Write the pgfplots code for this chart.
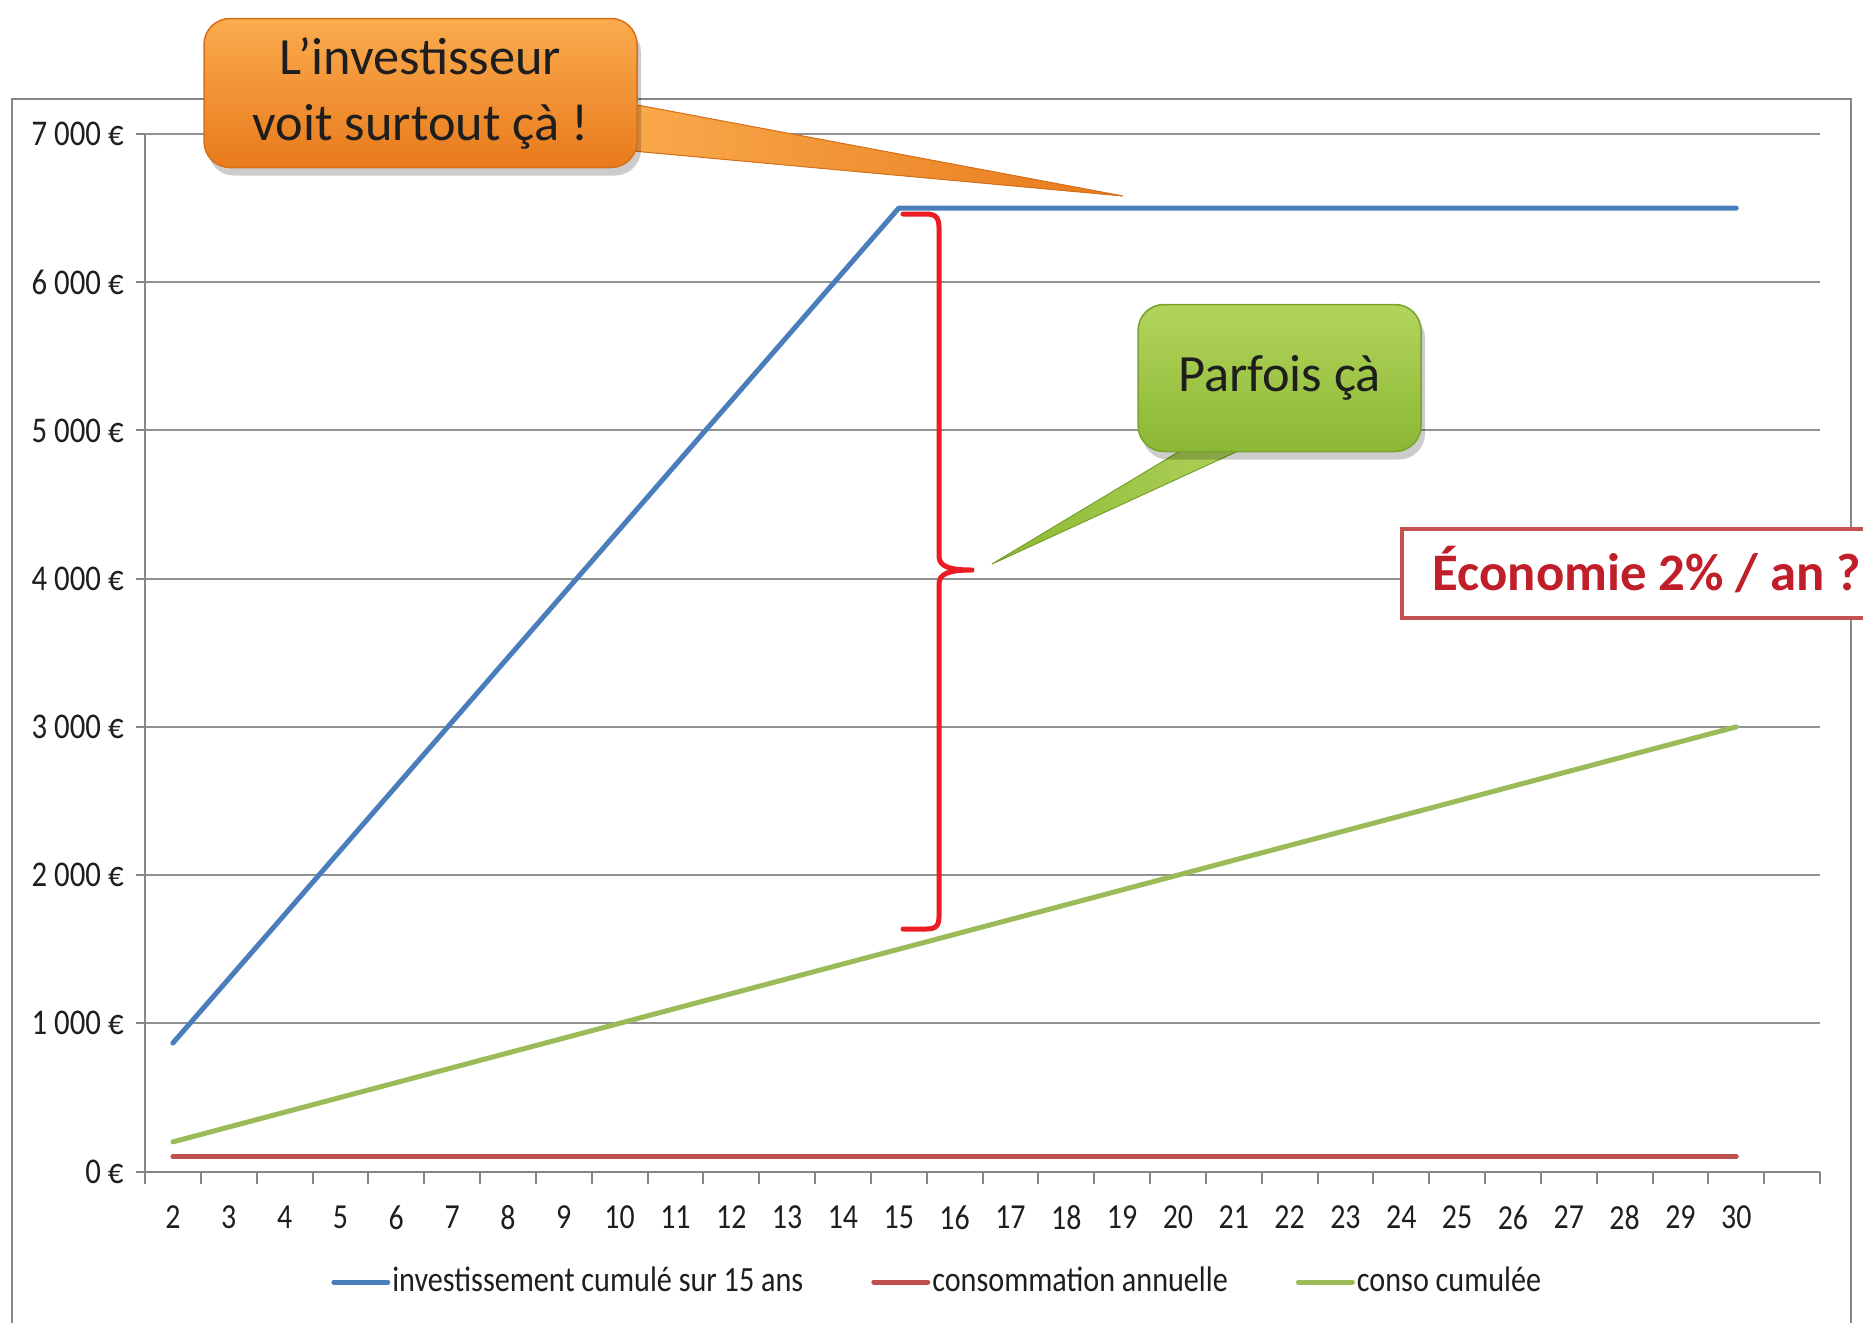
\documentclass[border=0pt]{standalone}
\usepackage{pgfplots}
\pgfplotsset{compat=1.18}
\usepackage{pgfplotstable}
\usepackage{fontspec}
\setmainfont{Carlito}
\usepackage{graphicx}
\usetikzlibrary{shadows}
\definecolor{axgray}{RGB}{134,134,134}
\definecolor{gridgray}{RGB}{145,145,145}
\definecolor{sblue}{RGB}{74,126,187}
\definecolor{sred}{RGB}{192,80,77}
\definecolor{sgreen}{RGB}{155,187,89}
\definecolor{bracered}{RGB}{237,28,36}
\definecolor{txt}{RGB}{30,30,30}
\definecolor{orTop}{RGB}{250,172,78}
\definecolor{orBot}{RGB}{232,122,28}
\definecolor{orEdge}{RGB}{214,112,24}
\definecolor{grTop}{RGB}{178,212,92}
\definecolor{grBot}{RGB}{140,184,52}
\definecolor{grEdge}{RGB}{122,162,46}
\definecolor{boxred}{RGB}{196,82,80}
\definecolor{ecored}{RGB}{192,30,40}
\newcommand\cond[1]{\scalebox{0.85}[1]{#1}}

\pgfplotstableread{
x inv conso cumul
2 867 100 200
3 1300 100 300
4 1733 100 400
5 2167 100 500
6 2600 100 600
7 3033 100 700
8 3467 100 800
9 3900 100 900
10 4333 100 1000
11 4767 100 1100
12 5200 100 1200
13 5633 100 1300
14 6067 100 1400
15 6500 100 1500
16 6500 100 1600
17 6500 100 1700
18 6500 100 1800
19 6500 100 1900
20 6500 100 2000
21 6500 100 2100
22 6500 100 2200
23 6500 100 2300
24 6500 100 2400
25 6500 100 2500
26 6500 100 2600
27 6500 100 2700
28 6500 100 2800
29 6500 100 2900
30 6500 100 3000
}\data

\begin{document}
\begin{tikzpicture}
\useasboundingbox (0,0) rectangle (186.3mm,-132.2mm);
\begin{scope}[x=0.1mm,y=-0.1mm]
\fill[white] (0,0) rectangle (1863,1322);
\draw[axgray, line width=0.25mm] (12,1400) -- (12,99) -- (1851,99) -- (1851,1400);
\end{scope}
\begin{axis}[
  at={(14.5mm,-117.15mm)}, anchor=south west,
  scale only axis, width=167.5mm, height=103.75mm,
  xmin=1.5, xmax=31.5, ymin=0, ymax=7000,
  axis lines*=left,
  axis line style={axgray, line width=0.2mm},
  every tick/.style={axgray, line width=0.2mm},
  tick align=outside,
  xtick={2,...,30},
  major x tick style={draw=none},
  minor xtick={1.5,2.5,...,31.5},
  minor tick length=1.2mm,
  major tick length=0.9mm,
  ytick={0,1000,...,7000},
  ymajorgrids,
  major grid style={gridgray, line width=0.2mm},
  xticklabel={\cond{\pgfmathprintnumber[assume math mode=true]{\tick}}},
  yticklabel={\cond{\pgfmathprintnumber[assume math mode=true,1000 sep={\ }]{\tick}\ €}},
  yticklabel style={font=\fontsize{10.3}{12}\selectfont, text=txt},
  xticklabel style={font=\fontsize{10}{12}\selectfont, text=txt, yshift=-1.3mm},
  legend columns=3,
  legend style={at={(0.473,-0.1065)}, anchor=center, draw=none, fill=none,
    font=\fontsize{10.1}{12}\selectfont, text=txt,
    /tikz/every even column/.append style={column sep=6.6mm},
    inner sep=0pt, nodes={inner xsep=0.2mm, inner ysep=0.3mm}},
  legend image code/.code={\draw[#1] (0mm,0mm) -- (5.4mm,0mm);},
]
\addplot[sblue, line width=0.5mm, line cap=round, line join=round] table[x=x,y=inv] {\data};
\addlegendentry{\cond{investissement cumulé sur 15 ans}}
\addplot[sred, line width=0.5mm, line cap=round] table[x=x,y=conso] {\data};
\addlegendentry{\cond{consommation annuelle}}
\addplot[sgreen, line width=0.5mm, line cap=round, line join=round] table[x=x,y=cumul] {\data};
\addlegendentry{\cond{conso cumulée}}
\end{axis}
\begin{scope}[x=0.1mm,y=-0.1mm]
% orange callout
\fill[left color=orTop, right color=orBot, draw=orEdge, line width=0.1mm] (600,98) -- (1123,196) -- (600,148) -- cycle;
\node[rounded corners=2.6mm, minimum width=43.3mm, minimum height=14.9mm,
  top color=orTop, bottom color=orBot, draw=orEdge, line width=0.15mm,
  drop shadow={shadow xshift=0.4mm, shadow yshift=-0.8mm, fill=black, opacity=0.2},
  align=center, text=txt, font=\fontsize{14.9}{18.8}\selectfont]
  at (420.5,93) {L’investisseur\\voit surtout çà !};
% green callout
\fill[left color=grBot, right color=grTop, draw=grEdge, line width=0.1mm] (1215,430) -- (992,564) -- (1262,440) -- cycle;
\node[rounded corners=2.6mm, minimum width=28.3mm, minimum height=14.7mm,
  top color=grTop, bottom color=grBot, draw=grEdge, line width=0.15mm,
  drop shadow={shadow xshift=0.4mm, shadow yshift=-0.8mm, fill=black, opacity=0.2},
  align=center, text=txt, font=\fontsize{14.9}{17.9}\selectfont]
  at (1279.5,378) {Parfois çà};
% brace
\draw[bracered, line width=0.5mm, line cap=round, line join=round]
  (903,214) -- (926,214) .. controls (936,214) and (939,218) .. (939,228)
  -- (939,556) .. controls (939,566) and (948,570) .. (972,570)
  .. controls (948,570) and (939,574) .. (939,584)
  -- (939,916) .. controls (939,926) and (936,929) .. (926,929) -- (903,929);
% red box
\draw[boxred, line width=0.4mm, fill=white] (1402,529) rectangle (1920,618);
\node[anchor=base west, inner sep=0pt, text=ecored, font=\bfseries\fontsize{15}{18}\selectfont]
  at (1432,590) {Économie 2\% / an ?};
\end{scope}
\end{tikzpicture}
\end{document}
